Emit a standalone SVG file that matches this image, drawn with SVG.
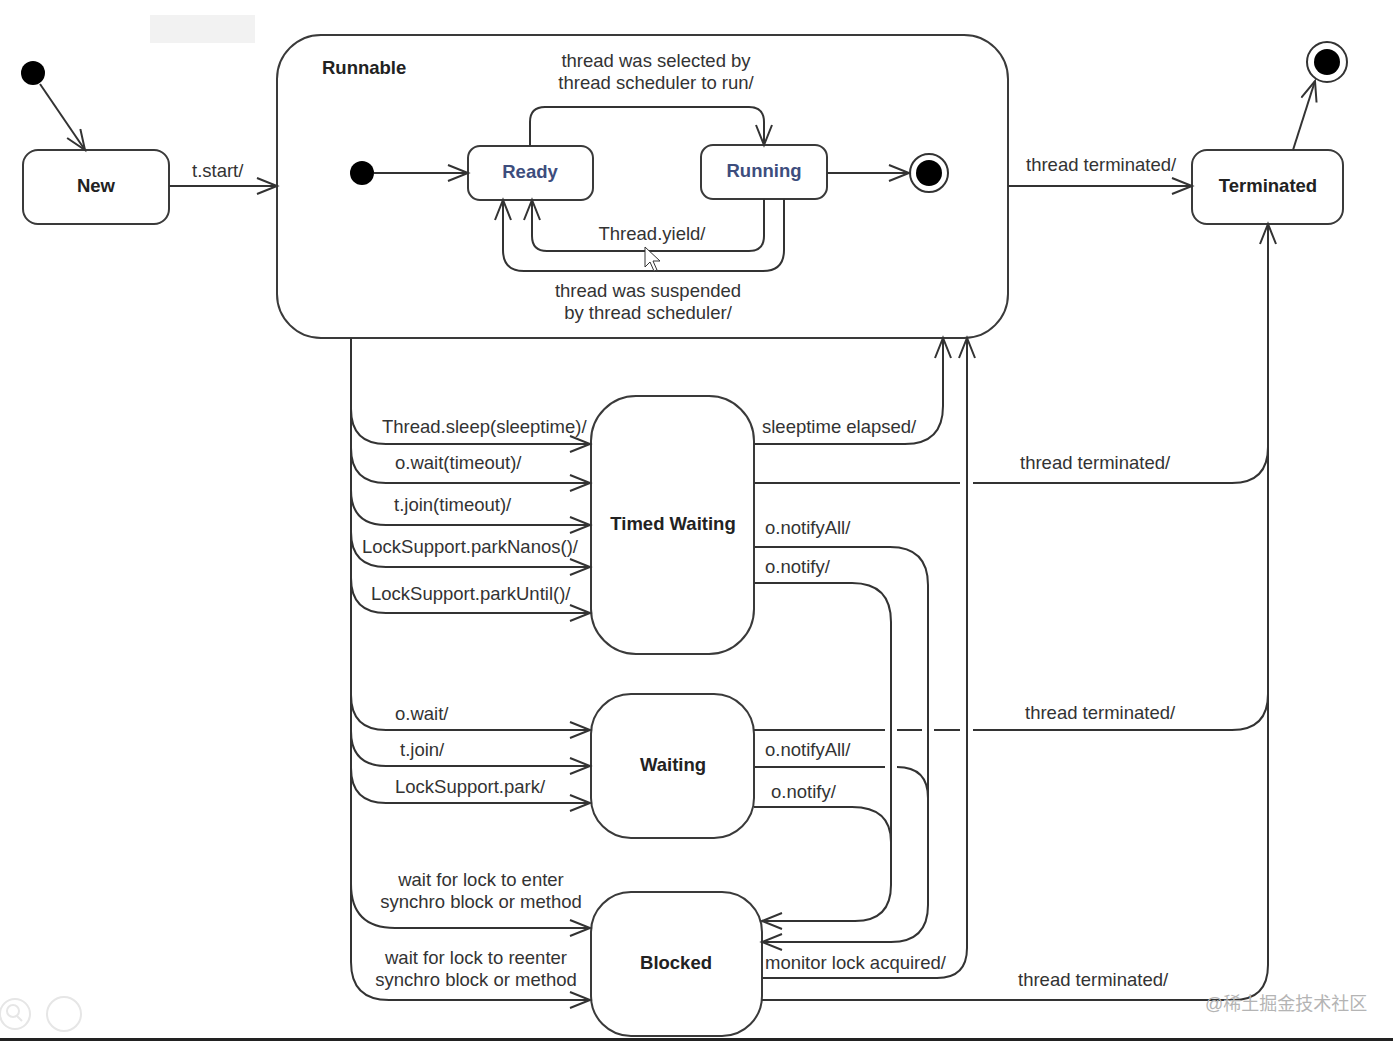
<svg xmlns="http://www.w3.org/2000/svg" width="1393" height="1041" viewBox="0 0 1393 1041">
<defs>
<style>
.st{fill:#fff;stroke:#3a3a3a;stroke-width:2}
.c{fill:none;stroke:#333;stroke-width:2}
.lb{font-family:"Liberation Sans",Arial,sans-serif;font-size:18.5px;fill:#333}
.nm{font-family:"Liberation Sans",Arial,sans-serif;font-size:18.5px;font-weight:bold;fill:#222}
.sub{font-family:"Liberation Sans",Arial,sans-serif;font-size:18.5px;font-weight:bold;fill:#3d4d7d}
.mid{text-anchor:middle}
</style>
<marker id="ah" markerUnits="userSpaceOnUse" markerWidth="26" markerHeight="20" refX="21" refY="9" orient="auto">
<path d="M1,1 L21,9 L1,17" fill="none" stroke="#333" stroke-width="2"/>
</marker>
</defs>
<rect width="1393" height="1041" fill="#fff"/>
<rect x="150" y="15" width="105" height="28" fill="#f2f2f2"/>

<g id="init1"><circle cx="33" cy="73" r="12" fill="#000"/></g>
<g id="new"><rect class="st" x="23" y="150" width="146" height="74" rx="15"/><text class="nm mid" x="96" y="192">New</text></g>
<g id="runnable"><rect class="st" x="277" y="35" width="731" height="303" rx="44"/><text class="nm" x="322" y="74">Runnable</text></g>
<g id="init2"><circle cx="362" cy="173" r="12" fill="#000"/></g>
<g id="ready"><rect class="st" x="468" y="146" width="125" height="54" rx="12"/><text class="sub mid" x="530" y="178">Ready</text></g>
<g id="running"><rect class="st" x="701" y="145" width="126" height="54" rx="12"/><text class="sub mid" x="764" y="177">Running</text></g>
<g id="final1"><circle cx="929" cy="173" r="19" fill="#fff" stroke="#333" stroke-width="2"/><circle cx="929" cy="173" r="13" fill="#000"/></g>
<g id="terminated"><rect class="st" x="1192" y="150" width="151" height="74" rx="15"/><text class="nm mid" x="1268" y="192">Terminated</text></g>
<g id="final2"><circle cx="1327" cy="62" r="20" fill="#fff" stroke="#333" stroke-width="2"/><circle cx="1327" cy="62" r="13" fill="#000"/></g>
<g id="timedwaiting"><rect class="st" x="591" y="396" width="163" height="258" rx="45"/><text class="nm mid" x="673" y="530">Timed Waiting</text></g>
<g id="waiting"><rect class="st" x="591" y="694" width="163" height="144" rx="40"/><text class="nm mid" x="673" y="771">Waiting</text></g>
<g id="blocked"><rect class="st" x="591" y="892" width="171" height="144" rx="40"/><text class="nm mid" x="676" y="969">Blocked</text></g>

<g id="connectors">
<path class="c" d="M40,84 L85,150" marker-end="url(#ah)"/>
<path class="c" d="M169,186 H277" marker-end="url(#ah)"/>
<path class="c" d="M374,173 H468" marker-end="url(#ah)"/>
<path class="c" d="M530,146 V122 Q530,107 545,107 H749 Q764,107 764,122 V145" marker-end="url(#ah)"/>
<path class="c" d="M827,173 H909" marker-end="url(#ah)"/>
<path class="c" d="M764,199 V236 Q764,251 749,251 H547 Q532,251 532,236 V200" marker-end="url(#ah)"/>
<path class="c" d="M784,199 V250 Q784,271 763,271 H524 Q503,271 503,250 V200" marker-end="url(#ah)"/>
<path class="c" d="M1008,186 H1192" marker-end="url(#ah)"/>
<path class="c" d="M1293,150 L1315,81" marker-end="url(#ah)"/>

<path class="c" d="M351,338 V962 Q351,1000 389,1000 H590" marker-end="url(#ah)"/>
<path class="c" d="M351,409 Q351,444 386,444 H590" marker-end="url(#ah)"/>
<path class="c" d="M351,448 Q351,483 386,483 H590" marker-end="url(#ah)"/>
<path class="c" d="M351,490 Q351,525 386,525 H590" marker-end="url(#ah)"/>
<path class="c" d="M351,532 Q351,567 386,567 H590" marker-end="url(#ah)"/>
<path class="c" d="M351,578 Q351,613 386,613 H590" marker-end="url(#ah)"/>
<path class="c" d="M351,695 Q351,730 386,730 H590" marker-end="url(#ah)"/>
<path class="c" d="M351,731 Q351,766 386,766 H590" marker-end="url(#ah)"/>
<path class="c" d="M351,768 Q351,803 386,803 H590" marker-end="url(#ah)"/>
<path class="c" d="M351,884 Q351,928 395,928 H590" marker-end="url(#ah)"/>

<path class="c" d="M754,444 H905 Q943,444 943,406 V338" marker-end="url(#ah)"/>
<path class="c" d="M762,978 H937 Q967,978 967,948 V338" marker-end="url(#ah)"/>
<path class="c" d="M762,1000 H1233 Q1268,1000 1268,965 V224" marker-end="url(#ah)"/>
<path class="c" d="M754,483 H960 M973,483 H1232 Q1268,483 1268,447"/>
<path class="c" d="M754,730 H885 M897,730 H922 M934,730 H960 M973,730 H1232 Q1268,730 1268,694"/>
<path class="c" d="M754,547 H890 Q928,547 928,585 V905 Q928,942 891,942 H762" marker-end="url(#ah)"/>
<path class="c" d="M754,583 H852 Q891,583 891,622 V885 Q891,921 855,921 H762" marker-end="url(#ah)"/>
<path class="c" d="M754,767 H885 M897,767 Q928,767 928,798"/>
<path class="c" d="M754,807 H852 Q891,807 891,842"/>
</g>

<g id="labels">
<text class="lb" x="192" y="177">t.start/</text>
<text class="lb mid" x="656" y="67">thread was selected by</text>
<text class="lb mid" x="656" y="89">thread scheduler to run/</text>
<text class="lb mid" x="652" y="240">Thread.yield/</text>
<text class="lb mid" x="648" y="297">thread was suspended</text>
<text class="lb mid" x="648" y="319">by thread scheduler/</text>
<text class="lb" x="1026" y="171">thread terminated/</text>
<text class="lb" x="382" y="433">Thread.sleep(sleeptime)/</text>
<text class="lb" x="395" y="469">o.wait(timeout)/</text>
<text class="lb" x="394" y="511">t.join(timeout)/</text>
<text class="lb" x="362" y="553">LockSupport.parkNanos()/</text>
<text class="lb" x="371" y="600">LockSupport.parkUntil()/</text>
<text class="lb" x="762" y="433">sleeptime elapsed/</text>
<text class="lb" x="1020" y="469">thread terminated/</text>
<text class="lb" x="765" y="534">o.notifyAll/</text>
<text class="lb" x="765" y="573">o.notify/</text>
<text class="lb" x="395" y="720">o.wait/</text>
<text class="lb" x="400" y="756">t.join/</text>
<text class="lb" x="395" y="793">LockSupport.park/</text>
<text class="lb" x="1025" y="719">thread terminated/</text>
<text class="lb" x="765" y="756">o.notifyAll/</text>
<text class="lb" x="771" y="798">o.notify/</text>
<text class="lb mid" x="481" y="886">wait for lock to enter</text>
<text class="lb mid" x="481" y="908">synchro block or method</text>
<text class="lb mid" x="476" y="964">wait for lock to reenter</text>
<text class="lb mid" x="476" y="986">synchro block or method</text>
<text class="lb" x="765" y="969">monitor lock acquired/</text>
<text class="lb" x="1018" y="986">thread terminated/</text>
</g>

<polygon points="645,247 645,267 650,262 654,271 657,270 653,261 660,261" fill="#fff" stroke="#333" stroke-width="1"/>
<text x="1205" y="1010" style="font-family:'Liberation Sans','Noto Sans CJK SC',sans-serif;font-size:18px;fill:#b4b4b4">@稀土掘金技术社区</text>
<circle cx="15" cy="1014" r="15" fill="none" stroke="#e6e6e6" stroke-width="2"/>
<circle cx="13" cy="1011" r="6" fill="none" stroke="#e6e6e6" stroke-width="2"/>
<line x1="17" y1="1016" x2="22" y2="1021" stroke="#e6e6e6" stroke-width="2"/>
<circle cx="64" cy="1014" r="17" fill="none" stroke="#e6e6e6" stroke-width="2"/>
<rect x="0" y="1038" width="1393" height="3" fill="#222"/>
</svg>
